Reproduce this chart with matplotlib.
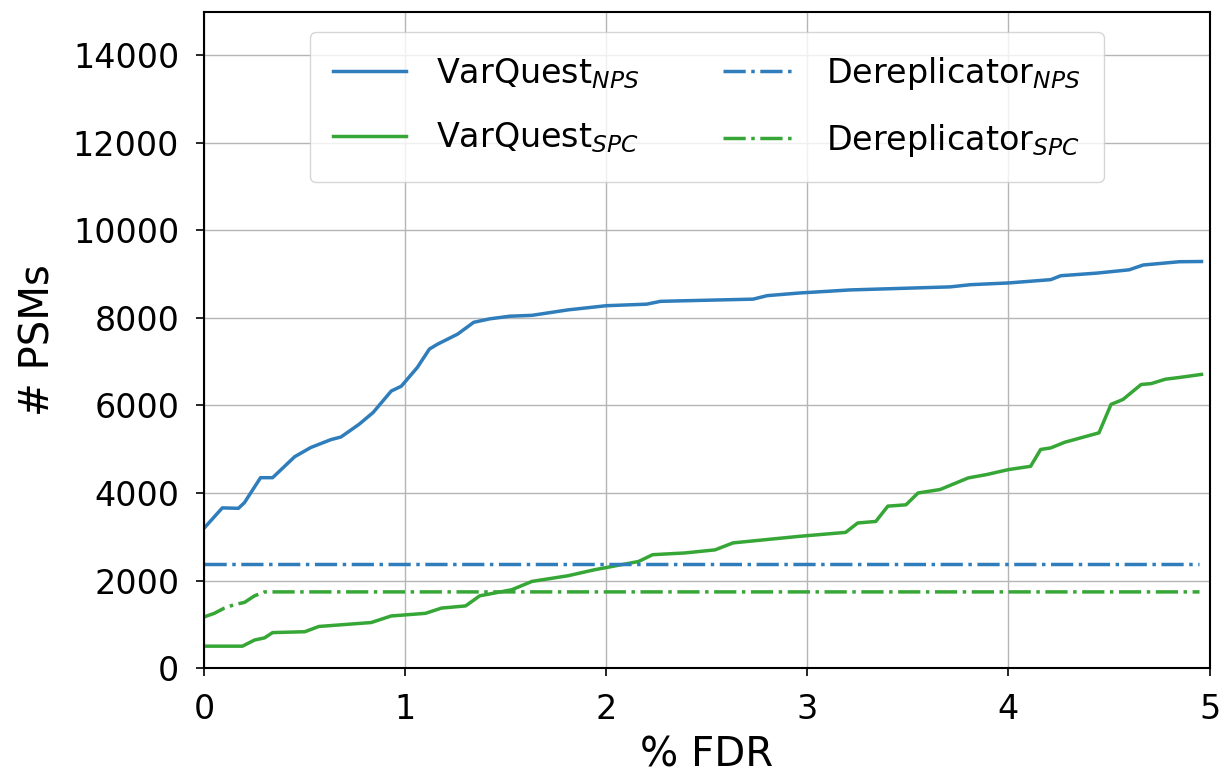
import matplotlib
matplotlib.use('Agg')
import matplotlib.pyplot as plt

# VarQuest on NPS
vq_nps_fdr = [0, 0.09, 0.17, 0.2, 0.28, 0.34, 0.45, 0.53, 0.63, 0.68, 0.77, 0.84, 0.93, 0.98,
              1.06, 1.12, 1.16, 1.26, 1.34, 1.42, 1.52, 1.63, 1.81, 2.0, 2.2, 2.27, 2.73, 2.8,
              2.96, 3.21, 3.71, 3.81, 4.0, 4.21, 4.26, 4.44, 4.6, 4.67, 4.85, 4.96]
vq_nps = [3200, 3660, 3650, 3780, 4350, 4350, 4830, 5040, 5220, 5280, 5570, 5840, 6330, 6440,
          6870, 7290, 7400, 7630, 7900, 7980, 8040, 8060, 8185, 8280, 8315, 8380, 8430, 8510,
          8570, 8640, 8710, 8760, 8800, 8875, 8965, 9025, 9100, 9210, 9285, 9290]

# VarQuest on SPC
vq_spc_fdr = [0, 0.19, 0.25, 0.3, 0.34, 0.5, 0.57, 0.83, 0.93, 1.1, 1.18, 1.3, 1.37, 1.53,
              1.63, 1.81, 1.94, 2.16, 2.23, 2.39, 2.54, 2.63, 2.96, 3.19, 3.25, 3.34, 3.4,
              3.49, 3.55, 3.66, 3.8, 3.89, 4.0, 4.11, 4.16, 4.21, 4.28, 4.45, 4.51, 4.55,
              4.57, 4.66, 4.71, 4.78, 4.85, 4.96]
vq_spc = [500, 500, 640, 690, 810, 830, 950, 1040, 1190, 1250, 1370, 1420, 1650, 1790,
          1980, 2110, 2245, 2435, 2590, 2630, 2700, 2860, 3010, 3100, 3315, 3350, 3700,
          3730, 4000, 4080, 4345, 4420, 4535, 4610, 4995, 5030, 5160, 5375, 6025, 6100,
          6140, 6480, 6500, 6600, 6640, 6710]

# Dereplicator
dr_nps_fdr = [0, 4.95]
dr_nps = [2370, 2370]
dr_spc_fdr = [0, 0.05, 0.1, 0.15, 0.2, 0.25, 0.3, 4.95]
dr_spc = [1170, 1250, 1370, 1450, 1500, 1650, 1740, 1740]

blue = '#2f7dbb'
green = '#36a636'

plt.rcParams['font.family'] = 'DejaVu Sans'
fig, ax = plt.subplots(figsize=(12.23, 7.75), dpi=100)

ax.plot(vq_nps_fdr, vq_nps, color=blue, lw=2.5, label='VarQuest$_{NPS}$')
ax.plot(vq_spc_fdr, vq_spc, color=green, lw=2.5, label='VarQuest$_{SPC}$')
ax.plot(dr_nps_fdr, dr_nps, color=blue, lw=2.5, ls='-.', label='Dereplicator$_{NPS}$')
ax.plot(dr_spc_fdr, dr_spc, color=green, lw=2.5, ls='-.', label='Dereplicator$_{SPC}$')

ax.set_xlim(0, 5)
ax.set_ylim(0, 15000)
ax.set_yticks(range(0, 14001, 2000))
ax.set_xticks(range(0, 6))
ax.tick_params(labelsize=24, length=6, width=1.2, pad=12)
ax.grid(True, color='#b5b5b5', lw=1)
for s in ax.spines.values():
    s.set_linewidth(1.5)
ax.set_xlabel('% FDR', fontsize=29, labelpad=7)
ax.set_ylabel('# PSMs', fontsize=29, labelpad=10)

ax.legend(loc='upper center', ncol=2, fontsize=24, columnspacing=2.5,
          handlelength=2.2, handletextpad=0.9, borderpad=0.7, labelspacing=0.9,
          bbox_to_anchor=(0.5, 0.995))

plt.subplots_adjust(left=0.167, right=0.989, top=0.985, bottom=0.138)
plt.savefig('out.png')
